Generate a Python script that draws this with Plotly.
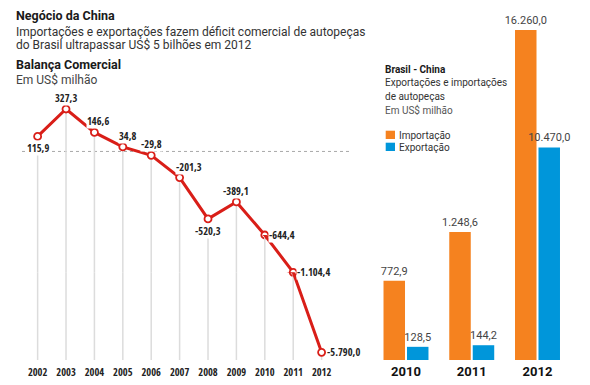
import plotly.graph_objects as go

# ---------------- data ----------------
years = [2002, 2003, 2004, 2005, 2006, 2007, 2008, 2009, 2010, 2011, 2012]
balanca = [115.9, 327.3, 146.6, 34.8, -29.8, -201.3, -520.3, -389.1, -644.4, -1104.4, -5790.0]

bar_years = [2010, 2011, 2012]
importacao = [772.9, 1248.6, 16260.0]
exportacao = [128.5, 144.2, 10470.0]

# ---------------- styling helpers ----------------
W, H = 590, 385
def px(x):
    return x / W
def py(y):
    return 1 - y / H

def br(v):
    s = f"{abs(v):,.1f}".replace(",", "X").replace(".", ",").replace("X", ".")
    return ("-" if v < 0 else "") + s

RED = "#D91E18"
ORANGE = "#F5821F"
BLUE = "#0096DA"
GRID = "#DCDCDC"
COND = "Open Sans Condensed, Roboto Condensed, sans-serif"
SANS = "Roboto, Open Sans, sans-serif"

# The infographic uses a piecewise (compressed) value scale for the deep deficit years.
# Each piece is a separate linear y axis stacked vertically: (axis, value range, pixel top, pixel bottom)
B1, B2 = balanca[8], balanca[9]
SEGMENTS = [
    ("y",  [B1, 435.3],     95.0, 235.0),
    ("y2", [B2, B1],       235.0, 272.3),
    ("y5", [-6240.9, B2],  272.3, 360.0),
]
LOWEST = SEGMENTS[-1][1][0]

fig = go.Figure()

# vertical drop lines from each point
gx, gy = [], []
for x, v in zip(years, balanca):
    gx += [x, x, None]
    gy += [v, LOWEST, None]
for ya, _, _, _ in SEGMENTS:
    fig.add_trace(go.Scatter(x=gx, y=gy, mode="lines", xaxis="x", yaxis=ya,
                             line=dict(color=GRID, width=1.5), hoverinfo="skip",
                             showlegend=False))

# red line on every piece of the scale (each clipped to its own band)
for ya, _, _, _ in SEGMENTS:
    fig.add_trace(go.Scatter(x=years, y=balanca, mode="lines", xaxis="x", yaxis=ya,
                             line=dict(color=RED, width=3), hoverinfo="skip",
                             showlegend=False))

def seg_of(v):
    for ya, rng, _, _ in SEGMENTS:
        if rng[0] <= v <= rng[1]:
            return ya
    return SEGMENTS[-1][0]

mk = dict(symbol="circle", size=7, color="white", line=dict(color=RED, width=1.8))
for ya, _, _, _ in SEGMENTS:
    pts = [(x, v) for x, v in zip(years, balanca) if seg_of(v) == ya]
    if pts:
        fig.add_trace(go.Scatter(x=[p[0] for p in pts], y=[p[1] for p in pts],
                                 mode="markers", xaxis="x", yaxis=ya, marker=mk,
                                 showlegend=False, cliponaxis=False))

# value labels on the line chart
label_pos = {  # xanchor, yanchor, xshift, yshift
    2002: ("center", "top", 0, -4),
    2003: ("center", "bottom", 0, 3),
    2004: ("center", "bottom", 4, 3),
    2005: ("center", "bottom", 5, 3),
    2006: ("center", "bottom", 0, 3),
    2007: ("left", "bottom", -5, 3),
    2008: ("center", "top", 0, -4),
    2009: ("center", "bottom", 0, 3),
    2010: ("left", "middle", 3, 0),
    2011: ("left", "middle", 3, 0),
    2012: ("left", "middle", 4, 0),
}
annotations = []
for x, v in zip(years, balanca):
    xa, yan, xs, ys = label_pos[x]
    annotations.append(dict(x=x, y=v, xref="x", yref=seg_of(v),
                            text=br(v), showarrow=False, xanchor=xa, yanchor=yan,
                            xshift=xs, yshift=ys, bgcolor="white", borderpad=0,
                            font=dict(family=COND, size=10.5, color="#222")))

# bars: 2010-2011 and 2012 drawn on separate value scales (as in the infographic)
bar_axis = {2010: "y3", 2011: "y3", 2012: "y4"}
for ya in ["y3", "y4"]:
    idx = [i for i, y in enumerate(bar_years) if bar_axis[y] == ya]
    xs_ = [bar_years[i] for i in idx]
    for vals, col, off in [(importacao, ORANGE, -0.342), (exportacao, BLUE, 0.015)]:
        v = [vals[i] for i in idx]
        fig.add_trace(go.Bar(x=xs_, y=v, xaxis="x2", yaxis=ya, width=0.327, offset=off,
                             marker=dict(color=col, line=dict(width=0)),
                             text=[br(t) for t in v], textposition="outside",
                             constraintext="none", cliponaxis=False,
                             textfont=dict(family=SANS, size=11, color="#444"),
                             showlegend=False, hoverinfo="skip"))

# titles
def txt(x, y, s, size, color="#222", bold=False, family=SANS):
    annotations.append(dict(x=px(x), y=py(y), xref="paper", yref="paper", xanchor="left",
                            yanchor="middle", showarrow=False,
                            text=f"<b>{s}</b>" if bold else s,
                            font=dict(family=family, size=size, color=color)))

txt(14, 15, "Negócio da China", 12.5, "#1a1a1a", True)
txt(14, 32.5, "Importações e exportações fazem déficit comercial de autopeças", 12, "#333")
txt(14, 45, "do Brasil ultrapassar US$ 5 bilhões em 2012", 12, "#333")
txt(14, 65, "Balança Comercial", 12.5, "#1a1a1a", True)
txt(14, 80, "Em US$ milhão", 12, "#444")

txt(382.5, 69.5, "Brasil - China", 10, "#1a1a1a", True)
txt(382.5, 83, "Exportações e importações", 10, "#333")
txt(382.5, 96.5, "de autopeças", 10, "#333")
txt(382.5, 110, "Em US$ milhão", 10, "#555")

# legend
shapes = []
for (y0, col, lab) in [(130.7, ORANGE, "Importação"), (142.7, BLUE, "Exportação")]:
    shapes.append(dict(type="rect", xref="paper", yref="paper", x0=px(385.7), x1=px(395),
                       y0=py(y0 + 8.3), y1=py(y0), fillcolor=col, line=dict(width=0)))
    txt(396.5, y0 + 4.3, lab, 10, "#333")

# zero line
shapes.append(dict(type="line", xref="x domain", yref="y", x0=0, x1=1, y0=0, y1=0,
                   line=dict(color="#A8A8A8", width=1, dash="dot"), layer="below"))

layout_axes = {}
for ya, rng, top, bot in SEGMENTS:
    key = "yaxis" if ya == "y" else "yaxis" + ya[1:]
    layout_axes[key] = dict(domain=[py(bot), py(top)], range=rng, anchor="x",
                            visible=False, fixedrange=True)

fig.update_layout(
    width=W, height=H, autosize=False,
    margin=dict(l=0, r=0, t=0, b=0),
    paper_bgcolor="white", plot_bgcolor="white",
    showlegend=False, barmode="overlay",
    annotations=annotations, shapes=shapes,
    xaxis=dict(domain=[px(22), px(350)], range=[2001.45, 2013.0], anchor=SEGMENTS[-1][0],
               tickmode="array", tickvals=years, ticktext=[str(y) for y in years],
               tickfont=dict(family=COND, size=10.5, color="#222"),
               showgrid=False, zeroline=False, showline=False, ticks="",
               ticklabelstandoff=4, fixedrange=True),
    xaxis2=dict(domain=[px(370), 1], range=[2009.4525, 2012.7985], anchor="y3",
                tickmode="array", tickvals=bar_years, ticktext=[str(y) for y in bar_years],
                tickfont=dict(family=SANS, size=13, color="#111", weight="bold"),
                showgrid=False, zeroline=False, showline=False, ticks="",
                ticklabelstandoff=2, fixedrange=True),
    yaxis3=dict(domain=[py(360), py(20)], range=[0, 340 / 0.1025], anchor="x2",
                visible=False, fixedrange=True),
    yaxis4=dict(domain=[py(360), py(20)], range=[0, 340 / 0.0203], anchor="x2",
                overlaying="y3", visible=False, fixedrange=True),
    **layout_axes,
)

fig.write_html("out.html", config={"displayModeBar": False},
               post_script="document.body.style.margin='0';")
